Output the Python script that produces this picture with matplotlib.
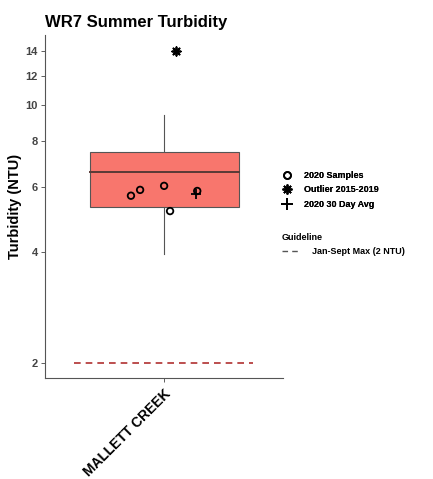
import numpy as np
import matplotlib.pyplot as plt
from matplotlib.lines import Line2D
from matplotlib.patches import Rectangle

plt.rcParams['font.family'] = ['Liberation Sans', 'DejaVu Sans']

site = 'MALLETT CREEK'
# box stats (2015-2019)
q1, med, q3 = 5.29, 6.59, 7.46
whisk_lo, whisk_hi = 3.95, 9.4
outlier = 14.0
# 2020 samples with jitter offsets
sample_vals = [5.68, 5.89, 6.04, 5.16, 5.85]
sample_jit = [-0.167, -0.121, 0.0, 0.03, 0.167]
avg_val = 5.75
avg_jit = 0.16
out_jit = 0.06
guideline = 2.0

fig = plt.figure(figsize=(4.33, 4.79), dpi=100)
ax = fig.add_axes([0.104, 0.211, 0.55, 0.716])
ax.set_yscale('log')
ax.set_ylim(1.82, 15.5)
ax.set_xlim(0.4, 1.6)

x0 = 1.0
bw = 0.75
ax.plot([x0, x0], [whisk_lo, q1], color='#555555', lw=0.8, zorder=1)
ax.plot([x0, x0], [q3, whisk_hi], color='#555555', lw=0.8, zorder=1)
ax.add_patch(Rectangle((x0 - bw / 2, q1), bw, q3 - q1, facecolor='#F8766D',
                       edgecolor='#555555', lw=0.8, zorder=2))
ax.plot([x0 - bw / 2, x0 + bw / 2], [med, med], color='#5a3a36', lw=1.4, zorder=3)

ax.scatter([x0 + j for j in sample_jit], sample_vals, marker='o', s=22,
           facecolors='none', edgecolors='black', linewidths=1.3, zorder=4)
ax.scatter([x0 + out_jit], [outlier], marker=(8, 2, 0), s=38, color='black',
           linewidths=1.3, zorder=4)
ax.scatter([x0 + avg_jit], [avg_val], marker='+', s=60, color='black',
           linewidths=1.3, zorder=4)
ax.plot([0.545, 1.45], [guideline, guideline], color='#b03030', lw=1.2,
        dashes=(4, 3), zorder=3)

ax.set_yticks([2, 4, 6, 8, 10, 12, 14])
ax.set_yticklabels(['2', '4', '6', '8', '10', '12', '14'], fontweight='bold')
ax.minorticks_off()
ax.tick_params(axis='y', labelsize=8, colors='#444444', length=3, width=0.6, pad=2)
ax.tick_params(axis='x', length=3, width=0.6, colors='#444444')
ax.set_xticks([x0])
ax.set_xticklabels([site], rotation=45, ha='right', rotation_mode='anchor',
                   fontsize=10, fontweight='bold', color='black')
for s in ['top', 'right']:
    ax.spines[s].set_visible(False)
for s in ['left', 'bottom']:
    ax.spines[s].set_color('#555555')
    ax.spines[s].set_linewidth(0.8)

ax.set_ylabel('Turbidity (NTU)', fontsize=10.5, fontweight='bold', labelpad=3)
ax.set_title('WR7 Summer Turbidity', fontsize=12, fontweight='bold', loc='left',
             x=0.0, pad=6)

h1 = [Line2D([], [], marker='o', ls='none', mfc='none', mec='black', mew=1.3, ms=5),
      Line2D([], [], marker=(8, 2, 0), ls='none', color='black', mew=1.2, ms=7),
      Line2D([], [], marker='+', ls='none', color='black', mew=1.3, ms=8)]
leg1 = fig.legend(h1, ['2020 Samples', 'Outlier 2015-2019', '2020 30 Day Avg'],
                  loc='upper left', bbox_to_anchor=(0.632, 0.66), frameon=False,
                  prop={'size': 6.5, 'weight': 'bold'}, handlelength=1.2,
                  handletextpad=1.3, labelspacing=0.6)
fig.add_artist(leg1)
h2 = [Line2D([], [], color='#555555', lw=1.0, dashes=(4, 3))]
leg2 = fig.legend(h2, ['Jan-Sept Max (2 NTU)'], title='Guideline',
                  loc='upper left', bbox_to_anchor=(0.632, 0.53), frameon=False,
                  prop={'size': 6.5, 'weight': 'bold'}, handlelength=2.0,
                  handletextpad=1.3,
                  title_fontproperties={'size': 6.5, 'weight': 'bold'})
leg2._legend_box.align = 'left'

fig.savefig('out.png', dpi=100)
